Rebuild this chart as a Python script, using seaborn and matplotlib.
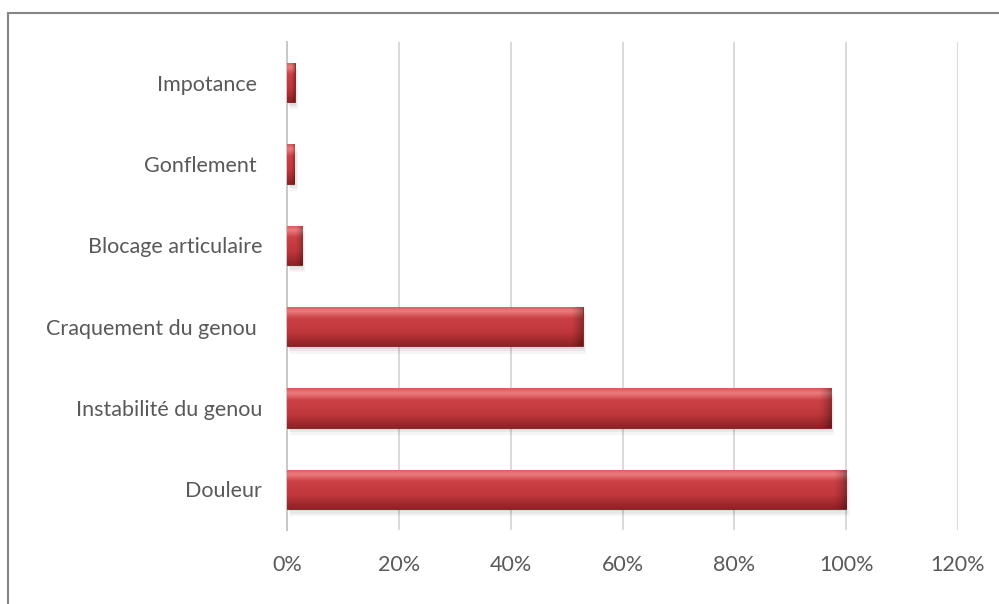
import numpy as np
import pandas as pd
import matplotlib
matplotlib.use("Agg")
import matplotlib.pyplot as plt
import seaborn as sns
from matplotlib.patches import Rectangle
from matplotlib.colors import to_rgb
from matplotlib.ticker import FuncFormatter

# ---- Data ----
categories = ["Impotance ", "Gonflement ", "Blocage articulaire",
              "Craquement du genou ", "Instabilité du genou", "Douleur"]
values = [1.4, 1.3, 2.7, 52.9, 97.3, 100.0]
x_ticks = [0, 20, 40, 60, 80, 100, 120]

df = pd.DataFrame({"Symptome": categories, "Pourcentage": values})

sns.set_style("white")
plt.rcParams["font.family"] = ["Lato", "DejaVu Sans"]

fig = plt.figure(figsize=(9.99, 6.04), dpi=100)
ax = fig.add_axes([0.2873, 0.1225, 0.6717, 0.808])

sns.barplot(data=df, x="Pourcentage", y="Symptome", orient="h",
            color="#C0393B", saturation=1, width=0.48, ax=ax, zorder=3)

# ---- 3D-ish shading on each bar ----
# vertical profile: light band near top, flat red middle, darker bottom
stops_t = np.array([0.0, 0.12, 0.3, 0.65, 1.0])
stops_c = np.array([to_rgb(c) for c in
                    ["#D9595B", "#EC7C7E", "#CC4145", "#C0373B", "#8E2225"]])
t = np.linspace(0, 1, 60)
vert = np.stack([np.interp(t, stops_t, stops_c[:, k]) for k in range(3)], axis=1)

for p in list(ax.patches):
    x0, y0 = p.get_x(), p.get_y()
    w, h = p.get_width(), p.get_height()
    # soft shadow
    for k, a in enumerate([0.06, 0.05, 0.04]):
        sh = Rectangle((x0 + 0.2 * (k + 1), y0 + 0.03 * (k + 1)), w, h,
                       facecolor="#000000", alpha=a, edgecolor="none", zorder=2)
        ax.add_patch(sh)
    cols = np.linspace(x0, x0 + w, 200)
    bevel = min(2.2, w * 0.5)
    frac = np.clip((cols - (x0 + w - bevel)) / bevel, 0, 1)
    dark = 1.0 - 0.3 * frac ** 1.5
    img = vert[:, None, :] * dark[None, :, None]
    im = ax.imshow(np.clip(img, 0, 1), extent=(x0, x0 + w, y0 + h, y0),
                   origin="upper", aspect="auto", zorder=4, interpolation="bilinear")
    im.set_clip_path(p)
    p.set_edgecolor("#7A1B1E")
    p.set_linewidth(0.6)

ax.set_xlim(0, 120)
ax.set_ylim(len(categories) - 0.5, -0.5)

# ---- Axes styling ----
ax.set_xticks(x_ticks)
ax.xaxis.set_major_formatter(FuncFormatter(lambda v, p: f"{int(v)}%"))
ax.xaxis.grid(True, color="#D9D9D9", linewidth=1.4)
ax.yaxis.grid(False)
ax.set_axisbelow(True)
for s in ["top", "right", "bottom"]:
    ax.spines[s].set_visible(False)
ax.spines["left"].set_color("#C8C8C8")
ax.spines["left"].set_linewidth(1.4)
ax.tick_params(axis="both", length=0, labelcolor="#595959", labelsize=15.5)
ax.tick_params(axis="x", pad=18)
ax.tick_params(axis="y", pad=18)
ax.set_xlabel("")
ax.set_ylabel("")

# outer chart frame
fig.patches.append(Rectangle((8 / 999, -0.05), 1.1, 1 - 13 / 604 + 0.05,
                             transform=fig.transFigure, fill=False,
                             edgecolor="#868686", linewidth=1.5))

fig.savefig("out.png", dpi=100)
